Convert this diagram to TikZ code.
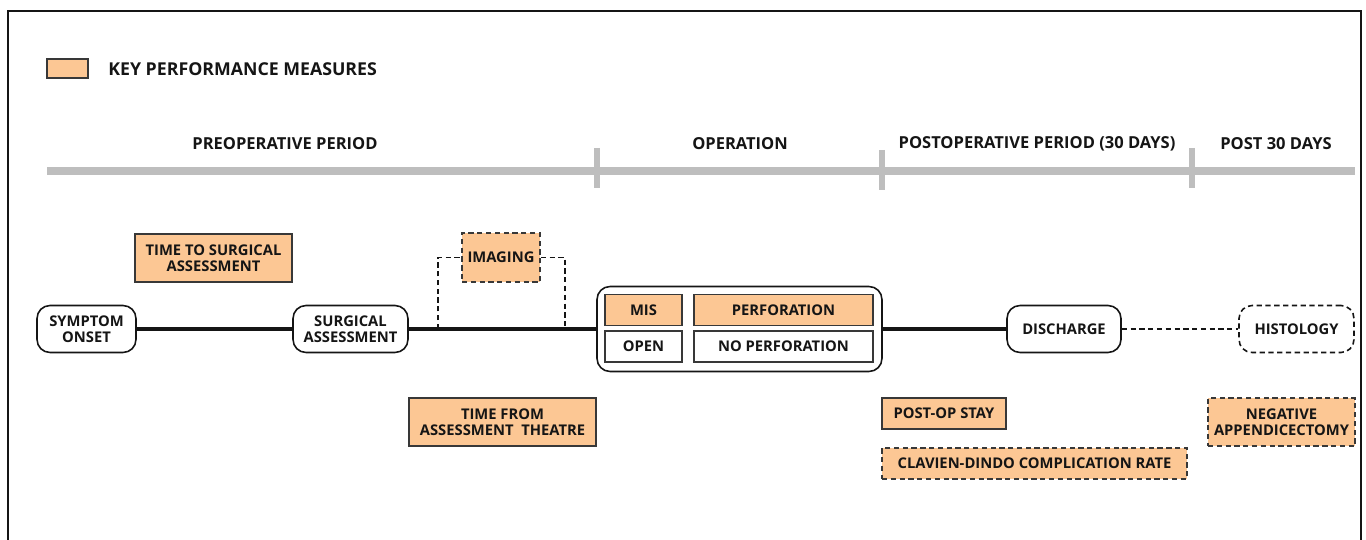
\documentclass[tikz,border=0pt]{standalone}
\usepackage{fontspec}
\setmainfont{Open Sans}
\definecolor{kpm}{HTML}{FCC794}
\definecolor{bar}{HTML}{BEBEBE}
\definecolor{ink}{HTML}{151515}
\begin{document}
\begin{tikzpicture}[x=0.02cm,y=-0.02cm,
  every node/.style={inner sep=0pt,align=center,text=ink},
  txt/.style={font=\fontsize{8.4}{9.3}\selectfont\bfseries},
  stage/.style={txt,draw=ink,line width=0.9pt,rounded corners=0.26cm,fill=white},
  kpmbox/.style={txt,draw=ink!85,line width=0.9pt,fill=kpm},
  plainbox/.style={txt,draw=ink!85,line width=0.9pt,fill=white},
  dashbox/.style={densely dashed},
  period/.style={font=\fontsize{9.4}{11}\selectfont\bfseries},
  mainline/.style={draw=ink,line width=2pt},
  dashline/.style={draw=ink,line width=0.7pt,densely dashed},
  tick/.style={draw=bar,line width=3.4pt}
]
\useasboundingbox (0,0) rectangle (1366,540);
% frame
\draw[ink,line width=1.1pt] (8,540) -- (8,11) -- (1361,11) -- (1361,540);
% legend
\node[kpmbox,minimum width=0.82cm,minimum height=0.38cm] (leg) at (67.5,68.5) {};
\node[anchor=west,font=\fontsize{10.1}{12}\selectfont\bfseries] (legt) at (108,69.5) {KEY PERFORMANCE MEASURES};
% timeline
\draw[bar,line width=4.5pt] (47,171) -- (1355,171);
\draw[tick] (597,148) -- (597,188);
\draw[tick] (882,150) -- (882,190);
\draw[tick] (1192,148) -- (1192,188);
\node[period] (p1) at (285,143.5) {PREOPERATIVE PERIOD};
\node[period] (p2) at (740,143.5) {OPERATION};
\node[period] (p3) at (1037,143.5) {POSTOPERATIVE PERIOD (30 DAYS)};
\node[period] (p4) at (1276,143.5) {POST 30 DAYS};
% stages
\node[stage,minimum width=1.98cm,minimum height=0.94cm] (so) at (86.5,329) {SYMPTOM\\ONSET};
\node[stage,minimum width=2.30cm,minimum height=0.94cm] (sa) at (350.5,329) {SURGICAL\\ASSESSMENT};
\node[stage,minimum width=5.70cm,minimum height=1.70cm] (op) at (739.5,329) {};
\node[kpmbox,minimum width=1.54cm,minimum height=0.62cm] (mis) at (643.5,310) {MIS};
\node[kpmbox,minimum width=3.58cm,minimum height=0.62cm] (perf) at (783.5,310) {PERFORATION};
\node[plainbox,minimum width=1.54cm,minimum height=0.62cm] (open) at (643.5,346.5) {OPEN};
\node[plainbox,minimum width=3.58cm,minimum height=0.62cm] (nperf) at (783.5,346.5) {NO PERFORATION};
\node[stage,minimum width=2.28cm,minimum height=0.94cm] (dis) at (1064,329) {DISCHARGE};
\node[stage,dashbox,minimum width=2.30cm,minimum height=0.94cm] (hist) at (1296.5,329) {HISTOLOGY};
% KPM boxes
\node[kpmbox,minimum width=3.14cm,minimum height=0.96cm] (tsa) at (213.5,258) {TIME TO SURGICAL\\ASSESSMENT};
\node[kpmbox,dashbox,minimum width=1.56cm,minimum height=0.98cm] (img) at (501,257.5) {IMAGING};
\node[kpmbox,minimum width=3.74cm,minimum height=0.96cm] (tfat) at (502.5,422) {TIME FROM\\ASSESSMENT\ \ THEATRE};
\node[kpmbox,minimum width=2.48cm,minimum height=0.62cm] (pos) at (944,413.5) {POST-OP STAY};
\node[kpmbox,dashbox,minimum width=6.10cm,minimum height=0.62cm] (cd) at (1034.5,463.5) {CLAVIEN-DINDO COMPLICATION RATE};
\node[kpmbox,dashbox,minimum width=2.94cm,minimum height=0.96cm] (neg) at (1281.5,422) {NEGATIVE\\APPENDICECTOMY};
% connectors
\coordinate (b1) at (438,329);
\coordinate (b2) at (565,329);
\draw[mainline] (so.east) -- (sa.west);
\draw[mainline] (sa.east) -- (op.west);
\draw[mainline] (op.east) -- (dis.west);
\draw[dashline] (dis.east) -- (hist.west);
\draw[dashline] (b1) |- (img.west);
\draw[dashline] (img.east) -| (b2);
\end{tikzpicture}
\end{document}
